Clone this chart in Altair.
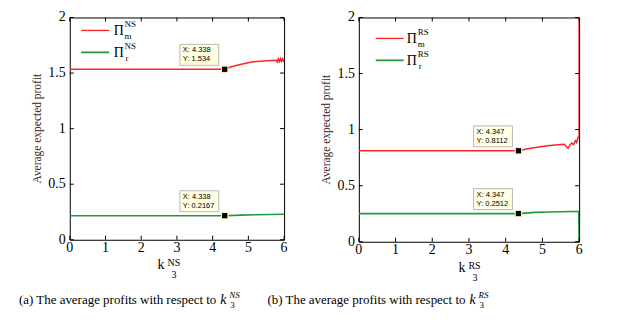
import altair as alt
import pandas as pd

# ---------------- data ----------------
# Panel (a): NS
ns_m_x = [0.0, 4.338, 4.5, 4.8, 5.1, 5.5, 5.78, 5.81, 5.84, 5.87, 5.9, 5.93, 5.96, 5.98, 6.0]
ns_m_y = [1.534, 1.534, 1.555, 1.58, 1.60, 1.61, 1.615, 1.60, 1.628, 1.603, 1.63, 1.606, 1.628, 1.61, 1.62]
ns_r_x = [0.0, 4.338, 4.8, 5.2, 5.6, 6.0]
ns_r_y = [0.2167, 0.2167, 0.222, 0.225, 0.228, 0.23]

# Panel (b): RS
rs_m_x = [0.0, 4.347, 4.6, 4.9, 5.2, 5.5, 5.6, 5.65, 5.7, 5.75, 5.8, 5.85, 5.9, 5.93, 5.96, 5.99, 6.0, 6.0]
rs_m_y = [0.8112, 0.8112, 0.83, 0.845, 0.858, 0.868, 0.87, 0.85, 0.835, 0.862, 0.88, 0.866, 0.9, 0.885, 0.92, 0.94, 0.95, 2.0]
rs_r_x = [0.0, 4.347, 4.8, 5.2, 5.5, 5.8, 5.99, 6.0]
rs_r_y = [0.2512, 0.2512, 0.262, 0.265, 0.268, 0.27, 0.27, 0.0]

tips_ns_x = [4.338, 4.338]
tips_ns_y = [1.534, 0.2167]
tips_ns_lx = ["X: 4.338", "X: 4.338"]
tips_ns_ly = ["Y: 1.534", "Y: 0.2167"]

tips_rs_x = [4.347, 4.347]
tips_rs_y = [0.8112, 0.2512]
tips_rs_lx = ["X: 4.347", "X: 4.347"]
tips_rs_ly = ["Y: 0.8112", "Y: 0.2512"]

x_ticks = [0, 1, 2, 3, 4, 5, 6]
x_tick_labels = ["0", "1", "2", "3", "4", "5", "6"]
y_ticks = [0, 0.5, 1, 1.5, 2]
y_tick_labels = ["0", "0.5", "1", "1.5", "2"]

RED = "#ff2424"
GREEN = "#22993c"
SERIF = "Liberation Serif"
SANS = "Liberation Sans"

one = pd.DataFrame({"a": [0]})


def txt(s, x, y, size, align="left", baseline="middle", italic=False, angle=0, font=SERIF, color="black"):
    kw = dict(text=s, fontSize=size, align=align, baseline=baseline, font=font, color=color)
    if italic:
        kw["fontStyle"] = "italic"
    if angle:
        kw["angle"] = angle
    return alt.Chart(one).mark_text(**kw).encode(x=alt.value(x), y=alt.value(y))


def anchor(x0, y0, x1, y1):
    return alt.Chart(one).mark_rect(opacity=0, fillOpacity=0, strokeOpacity=0).encode(
        x=alt.value(x0), x2=alt.value(x1), y=alt.value(y0), y2=alt.value(y1))


def panel(mx, my, rx, ry, tx, ty, tlx, tly, w, h, tag, leg, xt, cap, cap_letter, anc):
    xs = alt.Scale(domain=[0, 6], nice=False)
    ys = alt.Scale(domain=[0, 2], nice=False)

    def X(f):
        return alt.X(f, type="quantitative", scale=xs, axis=None)

    def Y(f):
        return alt.Y(f, type="quantitative", scale=ys, axis=None)

    dm = pd.DataFrame({"x": mx, "y": my, "o": list(range(len(mx)))})
    dr = pd.DataFrame({"x": rx, "y": ry, "o": list(range(len(rx)))})
    dt = pd.DataFrame({"x": tx, "y": ty, "lx": tlx, "ly": tly})

    line_m = alt.Chart(dm).mark_line(color=RED, strokeWidth=1.5, clip=True).encode(
        x=X("x"), y=Y("y"), order="o:Q")
    line_r = alt.Chart(dr).mark_line(color=GREEN, strokeWidth=1.6, clip=True).encode(
        x=X("x"), y=Y("y"), order="o:Q")

    dxt = pd.DataFrame({"t": x_ticks, "lab": x_tick_labels})
    dyt = pd.DataFrame({"t": y_ticks, "lab": y_tick_labels})
    xt_bot = alt.Chart(dxt).mark_rule(color="black", strokeWidth=1).encode(
        x=X("t"), y=alt.value(h), y2=alt.value(h - 4))
    xt_top = alt.Chart(dxt).mark_rule(color="black", strokeWidth=1).encode(
        x=X("t"), y=alt.value(0), y2=alt.value(4))
    yt_l = alt.Chart(dyt).mark_rule(color="black", strokeWidth=1).encode(
        y=Y("t"), x=alt.value(0), x2=alt.value(4))
    yt_r = alt.Chart(dyt).mark_rule(color="black", strokeWidth=1).encode(
        y=Y("t"), x=alt.value(w), x2=alt.value(w - 4))
    xlab = alt.Chart(dxt).mark_text(font=SERIF, fontSize=14, baseline="top", align="center",
                                    color="black").encode(x=X("t"), y=alt.value(h + 1), text="lab:N")
    ylab = alt.Chart(dyt).mark_text(font=SERIF, fontSize=14, baseline="middle", align="right",
                                    color="black").encode(y=Y("t"), x=alt.value(-4), text="lab:N")

    box = alt.Chart(dt).mark_rect(fill="#ffffe4", stroke="#b8b8b8", strokeWidth=1,
                                  xOffset=-45, x2Offset=-6, yOffset=-25, y2Offset=-4).encode(
        x=X("x"), x2="x:Q", y=Y("y"), y2="y:Q")
    t1 = alt.Chart(dt).mark_text(font=SANS, fontSize=7.5, align="left", baseline="middle",
                                 dx=-42, dy=-19, color="black").encode(x=X("x"), y=Y("y"), text="lx:N")
    t2 = alt.Chart(dt).mark_text(font=SANS, fontSize=7.5, align="left", baseline="middle",
                                 dx=-42, dy=-10, color="black").encode(x=X("x"), y=Y("y"), text="ly:N")
    sq = alt.Chart(dt).mark_square(size=40, color="black", opacity=1, stroke="#fff8c0",
                                   strokeWidth=1).encode(x=X("x"), y=Y("y"))

    lx0, lx1, ly1, ly2, pix = leg
    legend = [
        alt.Chart(one).mark_rule(color=RED, strokeWidth=1.3).encode(
            x=alt.value(lx0), x2=alt.value(lx1), y=alt.value(ly1)),
        alt.Chart(one).mark_rule(color=GREEN, strokeWidth=1.8).encode(
            x=alt.value(lx0), x2=alt.value(lx1), y=alt.value(ly2)),
        txt("Π", pix, ly1 + 1, 14),
        txt(tag, pix + 11, ly1 - 6, 9),
        txt("m", pix + 11, ly1 + 6, 9),
        txt("Π", pix, ly2 + 1, 14),
        txt(tag, pix + 11, ly2 - 6, 9),
        txt("r", pix + 12, ly2 + 6, 9),
    ]

    kx, kb = xt
    xtitle = [
        txt("k", kx, kb, 14, baseline="alphabetic"),
        txt(tag, kx + 10, kb - 3, 10, baseline="alphabetic"),
        txt("3", kx + 14, kb + 9, 10, baseline="alphabetic"),
    ]
    ytitle = txt("Average expected profit", -32, h / 2, 11.5, align="center", angle=270,
                 color="#3a2418")

    cx, cy = cap
    caption = [
        txt(f"({cap_letter}) The average profits with respect to", cx, cy, 13, align="right"),
        txt("k", cx + 4, cy, 14, italic=True),
        txt("3", cx + 14, cy + 5, 9),
        txt(tag, cx + 13, cy - 5, 9, italic=True),
    ]

    layers = ([anchor(*anc), line_m, line_r, xt_bot, xt_top, yt_l, yt_r, xlab, ylab, box, t1, t2, sq]
              + legend + xtitle + [ytitle] + caption)
    return alt.layer(*layers).properties(width=w, height=h)


# invisible anchors pin the picture's corners (0,0) and (617,332)
left = panel(ns_m_x, ns_m_y, ns_r_x, ns_r_y, tips_ns_x, tips_ns_y, tips_ns_lx, tips_ns_ly,
             215, 223, "NS", (11.5, 39.5, 13, 35, 44), (88, 252), (147, 283), "a",
             (-69, -16, -66, -13))
right = panel(rs_m_x, rs_m_y, rs_r_x, rs_r_y, tips_rs_x, tips_rs_y, tips_rs_lx, tips_rs_ly,
              221, 225, "RS", (17, 45, 21, 43, 48), (100, 255), (107, 283), "b",
              (255, 313, 258, 316))

chart = alt.hconcat(left, right, spacing=75, bounds="flush").properties(
    autosize=alt.AutoSizeParams(type="pad"),
    padding=0,
    background="white",
).configure_view(stroke="black", strokeWidth=1)

chart.save("out.html", embed_options={"renderer": "svg", "actions": False})
